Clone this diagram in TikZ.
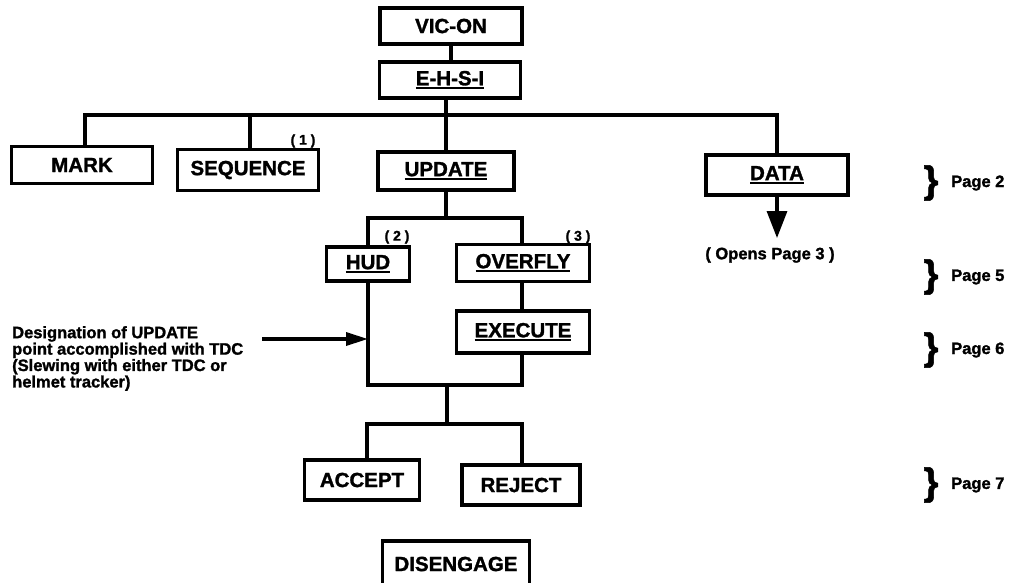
\documentclass[tikz,border=0pt]{standalone}
\usepackage{fontspec}
\setmainfont{Liberation Sans}[BoldFeatures={FakeBold=1.4}]
\usetikzlibrary{arrows.meta}

% underline drawn as a rule a little below the baseline
\newcommand\myul[1]{\setbox0\hbox{#1}\rlap{\rule[-3.8pt]{\wd0}{2.2pt}}\box0}

\tikzset{
  box/.style={draw, rectangle, line width=3.3pt, inner sep=0pt,
    font=\bfseries\fontsize{20.5}{21}\selectfont},
  link/.style={line width=3.3pt, line cap=butt, line join=miter},
  note/.style={inner sep=0pt, font=\bfseries\fontsize{16.5}{14}\selectfont},
  tag/.style={inner sep=0pt, font=\bfseries\fontsize{14}{14}\selectfont},
  bracefont/.style={inner sep=0pt, font=\bfseries\fontsize{38}{38}\selectfont},
  bigtip/.style={-{Triangle[length=27pt,width=20pt]}},
  smalltip/.style={-{Triangle[length=22pt,width=13pt]}}
}

\begin{document}
\begin{tikzpicture}[x=1pt,y=-1pt]
\useasboundingbox (0,0) rectangle (1014,582);
\clip (0,0) rectangle (1014,582);
\fill[white] (0,0) rectangle (1014,582);

% ---- boxes ----
\node[box, minimum width=142pt, minimum height=36pt] (vicon) at (451,26) {VIC-ON};
\node[box, minimum width=141pt, minimum height=36pt] (ehsi)  at (450,80) {\myul{E-H-S-I}\hspace{12pt}};

\node[box, minimum width=141pt, minimum height=37pt] (mark)   at (82,165)  {MARK};
\node[box, minimum width=141pt, minimum height=41pt] (seq)    at (248,170) {SEQUENCE\hspace{20pt}};
\node[box, minimum width=136pt, minimum height=38pt] (update) at (446,171) {\myul{UPDATE}};
\node[box, minimum width=142pt, minimum height=40pt] (data)   at (777,175) {\myul{DATA}};

\node[box, minimum width=83pt,  minimum height=34pt] (hud)     at (368,264) {\myul{HUD}};
\node[box, minimum width=133pt, minimum height=37pt] (overfly) at (523,263) {\myul{OVERFLY}};
\node[box, minimum width=133pt, minimum height=42pt] (execute) at (523,332) {\myul{EXECUTE}};

\node[box, minimum width=115pt, minimum height=40pt] (accept) at (362,480) {ACCEPT};
\node[box, minimum width=118pt, minimum height=40pt] (reject) at (521,485) {REJECT};

\node[box, minimum width=147pt, minimum height=46pt] (diseng) at (456,564) {DISENGAGE\hspace{8pt}};

% ---- footnote tags ----
\node[tag] (t1) at (303,141) {( 1 )};
\node[tag] (t2) at (397,237) {( 2 )};
\node[tag] (t3) at (578,237) {( 3 )};

% ---- connectors ----
\draw[link] (vicon.south) -- (ehsi.north -| vicon.south);

\coordinate (busA) at (446,115);
\draw[link] (ehsi.south -| busA) -- (busA);
\draw[link] (mark.north -| 85,0) |- (busA) -| (data.north);
\draw[link] (seq.north -| 250,0) -- (250,115);
\draw[link] (busA) -- (update.north -| busA);

\coordinate (busB) at (446,218);
\draw[link] (update.south -| busB) -- (busB);
\draw[link] (hud.north) |- (busB) -| (overfly.north -| 522,0);
\draw[link] (overfly.south -| 522,0) -- (execute.north -| 522,0);

\coordinate (busC) at (447,385);
\draw[link] (hud.south) |- (busC) -| (execute.south -| 522,0);
\coordinate (busD) at (447,424);
\draw[link] (busC) -- (busD);
\draw[link] (accept.north -| 367,0) |- (busD) -| (reject.north -| 522,0);

% ---- DATA leads to page 3 ----
\node[note] (opens) at (770,255) {( Opens Page 3 )};
\coordinate (dtip) at (777,238);
\draw[link, bigtip] (data.south) -- (dtip);

% ---- side note on designation ----
\node[note, anchor=north west, align=left] (desig) at (12,326)
  {Designation of UPDATE\\point accomplished with TDC\\(Slewing with either TDC or\\helmet tracker)};
\coordinate (nstart) at (262,339);
\draw[link, smalltip] (nstart) -- (nstart -| hud.south);

% ---- page references ----
\foreach \yy/\pg in {183/2, 277/5, 350/6, 485/7}{
  \node[bracefont] (br\pg) at (931,\yy) {\}};
  \node[note, anchor=west] (pg\pg) at (951,\yy) {Page \pg};
}
\end{tikzpicture}
\end{document}
